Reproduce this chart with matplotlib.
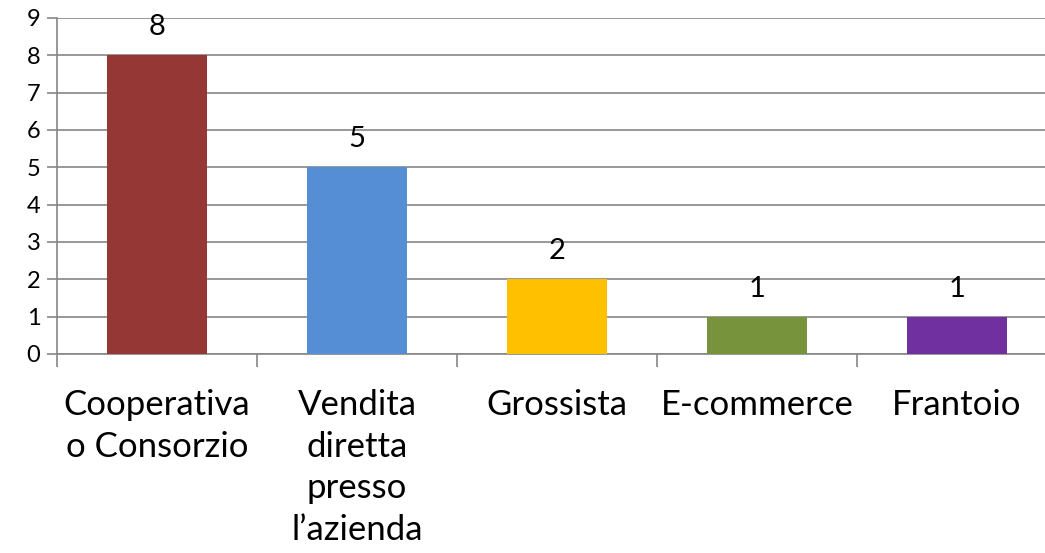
import matplotlib.pyplot as plt
from matplotlib.ticker import FixedLocator

categorie = ["Cooperativa\no Consorzio", "Vendita\ndiretta\npresso\nl\u2019azienda",
             "Grossista", "E-commerce", "Frantoio"]
valori = [8, 5, 2, 1, 1]
colori = ["#953735", "#558ED5", "#FFC000", "#77933C", "#7030A0"]
y_ticks = list(range(0, 10))

plt.rcParams["font.family"] = ["Lato", "DejaVu Sans"]
grigio = "#868686"

fig = plt.figure(figsize=(10.45, 5.53), dpi=100)
ax = fig.add_axes([57 / 1045, 1 - 354 / 553, 1000 / 1045, 336 / 553])

x = list(range(len(categorie)))
ax.bar(x, valori, width=0.5, color=colori, zorder=3)

for xi, v in zip(x, valori):
    ax.annotate(str(v), (xi, v), xytext=(0, 14.5), textcoords="offset points",
                ha="center", va="baseline", fontsize=21, color="black")

ax.set_xlim(-0.5, len(categorie) - 0.5)
ax.set_ylim(0, 9)
ax.set_yticks(y_ticks)
ax.set_xticks(x)
ax.set_xticklabels(categorie, fontsize=25, linespacing=1.38)
ax.xaxis.set_minor_locator(FixedLocator([i - 0.5 for i in range(len(categorie) + 1)]))

ax.tick_params(axis="x", which="major", length=0, pad=25)
ax.tick_params(axis="x", which="minor", length=9, width=1.2, color=grigio, direction="out")
ax.tick_params(axis="y", length=7, width=1.2, color=grigio, labelsize=17, pad=5)

ax.yaxis.grid(True, color=grigio, linewidth=1.2, zorder=0)
ax.set_axisbelow(True)
for s in ["top", "right"]:
    ax.spines[s].set_visible(False)
for s in ["left", "bottom"]:
    ax.spines[s].set_color(grigio)
    ax.spines[s].set_linewidth(1.2)

fig.savefig("out.png", dpi=100)
